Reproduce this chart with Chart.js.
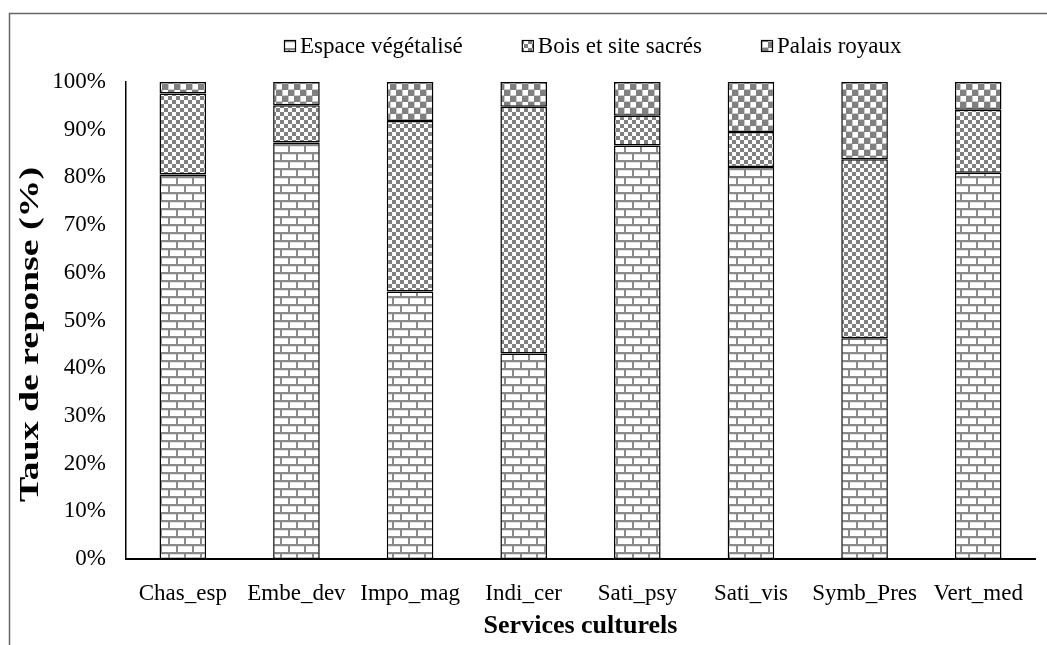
<!DOCTYPE html>
<html>
<head>
<meta charset="utf-8">
<script src="https://cdn.jsdelivr.net/npm/chart.js@4.4.1/dist/chart.umd.min.js"></script>
<style>
  html, body { margin: 0; padding: 0; background: #fff; }
</style>
</head>
<body>
<canvas id="chart" width="1047" height="645"></canvas>
<script>
// data (percent of responses)
const categories = ['Chas_esp', 'Embe_dev', 'Impo_mag', 'Indi_cer', 'Sati_psy', 'Sati_vis', 'Symb_Pres', 'Vert_med'];
const espaceVeg = [80.6, 87.3, 56.1, 43.1, 86.7, 82.2, 46.3, 81.0];
const boisSacres = [17.0, 7.8, 35.7, 51.7, 6.2, 7.3, 37.5, 13.2];
const palaisRoyaux = [2.4, 4.9, 8.2, 5.2, 7.1, 10.5, 16.2, 5.8];
const seriesNames = ['Espace végétalisé', 'Bois et site sacrés', 'Palais royaux'];

const FONT = '"Liberation Serif", "Times New Roman", serif';

// fill patterns (Excel style: bricks, small checker, spheres)
function makePattern(w, h, paint) {
  const c = document.createElement('canvas');
  c.width = w; c.height = h;
  const g = c.getContext('2d');
  paint(g);
  return g.createPattern(c, 'repeat');
}

const brick = makePattern(16, 16, g => {
  g.fillStyle = '#fff';
  g.fillRect(0, 0, 16, 16);
  g.fillStyle = '#e2e2e2';
  g.fillRect(2, 2, 14, 1);
  g.fillRect(0, 10, 16, 1);
  g.fillStyle = '#8a8a8a';
  g.fillRect(0, 0, 16, 2);
  g.fillRect(0, 8, 16, 2);
  g.fillRect(0, 0, 2, 8);
  g.fillRect(8, 8, 2, 8);
});

const checker = makePattern(8, 8, g => {
  g.fillStyle = '#fff';
  g.fillRect(0, 0, 8, 8);
  g.fillStyle = '#808080';
  g.fillRect(0, 0, 4, 4);
  g.fillRect(4, 4, 4, 4);
});

const sphere = makePattern(12, 12, g => {
  g.fillStyle = '#808080';
  g.fillRect(0, 0, 12, 12);
  g.fillStyle = '#c8c8c8';
  g.fillRect(0, 0, 6, 6);
  g.fillRect(6, 6, 6, 6);
  g.fillStyle = '#fff';
  g.fillRect(1, 0, 5, 5);
  g.fillRect(7, 6, 5, 5);
});

const fills = [brick, checker, sphere];

// linear scale whose title is stretched along its length, like the original
class StretchTitleScale extends Chart.LinearScale {
  static id = 'stretchLinear';
  static defaults = Chart.LinearScale.defaults;
  drawTitle() {
    const ctx = this.ctx;
    const mid = (this.top + this.bottom) / 2;
    ctx.save();
    ctx.translate(0, mid + 14);
    ctx.scale(1, 1.4);
    ctx.translate(0, -mid);
    super.drawTitle();
    ctx.restore();
  }
}
Chart.register(StretchTitleScale);

// gray frame of the chart object (only left and top edges visible)
const framePlugin = {
  id: 'frame',
  beforeDraw(chart) {
    const ctx = chart.ctx;
    ctx.save();
    ctx.strokeStyle = '#666';
    ctx.lineWidth = 1.5;
    ctx.beginPath();
    ctx.moveTo(9.5, 645);
    ctx.lineTo(9.5, 13.5);
    ctx.lineTo(1047, 13.5);
    ctx.stroke();
    ctx.restore();
  }
};

// legend laid out like the original (small patterned boxes)
const legendPlugin = {
  id: 'patternLegend',
  afterDraw(chart) {
    const ctx = chart.ctx;
    ctx.save();
    ctx.font = '23px ' + FONT;
    ctx.textBaseline = 'middle';
    let x = 284;
    const y = 46;
    chart.data.datasets.forEach((ds, i) => {
      ctx.fillStyle = fills[i];
      ctx.fillRect(x, y - 6, 12, 12);
      ctx.strokeStyle = '#000';
      ctx.lineWidth = 1.2;
      ctx.strokeRect(x + 0.5, y - 5.5, 11, 11);
      ctx.fillStyle = '#000';
      ctx.fillText(ds.label, x + 16, y + 1);
      x += 16 + ctx.measureText(ds.label).width + 59;
    });
    ctx.restore();
  }
};

const datasets = [espaceVeg, boisSacres, palaisRoyaux].map((vals, i) => ({
  label: seriesNames[i],
  data: vals,
  backgroundColor: fills[i],
  borderColor: '#000',
  borderWidth: 1.5,
  borderSkipped: false,
  barPercentage: 0.41,
  categoryPercentage: 1
}));

new Chart(document.getElementById('chart'), {
  type: 'bar',
  data: { labels: categories, datasets },
  plugins: [framePlugin, legendPlugin],
  options: {
    responsive: false,
    animation: false,
    layout: { padding: { top: 82, right: 12, left: 0, bottom: 0 } },
    plugins: {
      legend: { display: false },
      tooltip: { enabled: false }
    },
    scales: {
      x: {
        stacked: true,
        grid: { display: false, drawTicks: false },
        border: { display: true, color: '#000', width: 2 },
        ticks: { color: '#000', font: { family: FONT, size: 23 }, padding: 21, maxRotation: 0, autoSkip: false },
        title: {
          display: true,
          text: 'Services culturels',
          color: '#000',
          font: { family: FONT, size: 26, weight: 'bold' },
          padding: { top: 0, bottom: 3 }
        },
        afterFit: s => { s.height = 86; }
      },
      y: {
        type: 'stretchLinear',
        stacked: true,
        min: 0,
        max: 100,
        grid: { display: false, drawTicks: false },
        border: { display: true, color: '#000', width: 1.5 },
        ticks: {
          stepSize: 10,
          color: '#000',
          font: { family: FONT, size: 23 },
          padding: 20,
          callback: v => v + '%'
        },
        title: {
          display: true,
          text: 'Taux de reponse (%)',
          color: '#000',
          font: { family: FONT, size: 27, weight: 'bold' },
          padding: { top: 15, bottom: 0 }
        },
        afterFit: s => { s.width = 126; }
      }
    }
  }
});
</script>
</body>
</html>
